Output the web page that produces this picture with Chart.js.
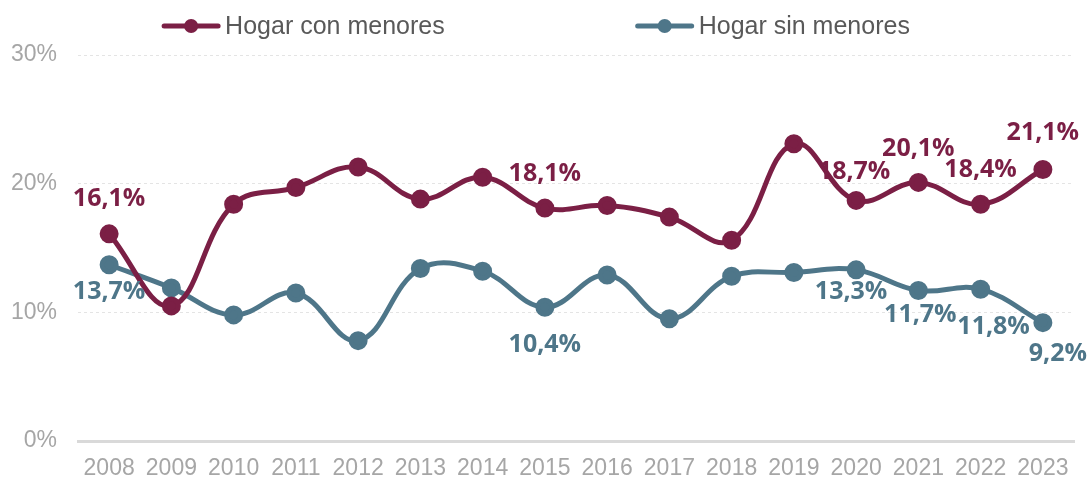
<!DOCTYPE html>
<html>
<head>
<meta charset="utf-8">
<script src="https://cdn.jsdelivr.net/npm/chart.js@4/dist/chart.umd.min.js"></script>
<style>
  html, body { margin: 0; padding: 0; background: #fff; }
  #wrap { width: 1091px; height: 481px; }
</style>
</head>
<body>
<div id="wrap"><canvas id="hogarChart"></canvas></div>
<script>
  // Hogares: con y sin menores, 2008-2023 (%)
  var years = ['2008', '2009', '2010', '2011', '2012', '2013', '2014', '2015',
    '2016', '2017', '2018', '2019', '2020', '2021', '2022', '2023'];
  var conMenores = [16.1, 10.5, 18.4, 19.7, 21.3, 18.8, 20.5, 18.1,
    18.3, 17.4, 15.6, 23.1, 18.7, 20.1, 18.4, 21.1];
  var sinMenores = [13.7, 11.9, 9.8, 11.5, 7.8, 13.4, 13.2, 10.4,
    12.9, 9.5, 12.8, 13.1, 13.3, 11.7, 11.8, 9.2];
  // years that carry a value label
  var conLabelYears = ['2008', '2015', '2020', '2021', '2022', '2023'];
  var sinLabelYears = ['2008', '2015', '2020', '2021', '2022', '2023'];
  var yTicks = [0, 10, 20, 30];

  var colCon = '#7b1f45';
  var colSin = '#4e7689';
  var narrow = '"Liberation Sans Narrow", "Liberation Sans", sans-serif';

  function fmt(v) {
    return v.toFixed(1).replace('.', ',') + '%';
  }

  // legend: line + dot icon, wide gap between the two entries
  var lineLegend = {
    id: 'lineLegend',
    afterDraw: function (chart, args, opts) {
      var ctx = chart.ctx;
      ctx.save();
      ctx.font = opts.size + 'px ' + narrow;
      ctx.textBaseline = 'middle';
      var items = chart.data.datasets.map(function (ds) {
        return { ds: ds, w: opts.icon + 4 + ctx.measureText(ds.label).width };
      });
      var total = items.reduce(function (s, it) { return s + it.w; }, 0) + opts.gap * (items.length - 1);
      var x = chart.width / 2 + opts.dx - total / 2;
      var y = opts.y;
      items.forEach(function (it) {
        var c = it.ds.borderColor;
        ctx.strokeStyle = c;
        ctx.lineWidth = 5;
        ctx.lineCap = 'round';
        ctx.beginPath(); ctx.moveTo(x + 3, y); ctx.lineTo(x + opts.icon - 3, y); ctx.stroke();
        ctx.fillStyle = c;
        ctx.beginPath(); ctx.arc(x + opts.icon / 2, y, 7, 0, Math.PI * 2); ctx.fill();
        ctx.fillStyle = '#595959';
        ctx.fillText(it.ds.label, x + opts.icon + 4, y + 1);
        x += it.w + opts.gap;
      });
      ctx.restore();
    }
  };

  var valueLabels = {
    id: 'valueLabels',
    afterDatasetsDraw: function (chart, args, opts) {
      var ctx = chart.ctx;
      ctx.save();
      ctx.font = 'bold 25px "Open Sans", sans-serif';
      ctx.textAlign = 'center';
      ctx.textBaseline = 'middle';
      chart.data.datasets.forEach(function (ds, i) {
        var meta = chart.getDatasetMeta(i);
        var conf = opts.sets[i];
        ctx.fillStyle = ds.borderColor;
        conf.years.forEach(function (yr) {
          var idx = years.indexOf(yr);
          var pt = meta.data[idx];
          var shift = conf.shift[yr] || [0, 0];
          ctx.fillText(fmt(ds.data[idx]), pt.x + shift[0], pt.y + conf.dy + shift[1]);
        });
      });
      ctx.restore();
    }
  };

  new Chart(document.getElementById('hogarChart'), {
    type: 'line',
    data: {
      labels: years,
      datasets: [
        {
          label: 'Hogar con menores',
          data: conMenores,
          borderColor: colCon,
          backgroundColor: colCon,
          borderWidth: 5,
          pointRadius: 7,
          pointHoverRadius: 7,
          tension: 0.4,
          fill: false
        },
        {
          label: 'Hogar sin menores',
          data: sinMenores,
          borderColor: colSin,
          backgroundColor: colSin,
          borderWidth: 5,
          pointRadius: 7,
          pointHoverRadius: 7,
          tension: 0.4,
          fill: false
        }
      ]
    },
    plugins: [valueLabels, lineLegend],
    options: {
      responsive: true,
      maintainAspectRatio: false,
      animation: false,
      layout: { padding: { left: 4, right: 17, top: 55, bottom: 0 } },
      plugins: {
        tooltip: { enabled: false },
        legend: { display: false },
        lineLegend: { y: 26, size: 25, icon: 60, gap: 190, dx: -10 },
        valueLabels: {
          sets: [
            { years: conLabelYears, dy: -34, shift: { '2020': [-2, 5], '2023': [0, -3], '2008': [0, -1] } },
            { years: sinLabelYears, dy: 27, shift: { '2015': [0, 11], '2020': [-5, -5], '2022': [13, 11], '2023': [15, 4], '2021': [2, -3] } }
          ]
        }
      },
      scales: {
        x: {
          offset: true,
          afterFit: function (axis) { axis.height = 40; },
          grid: { display: false },
          border: { display: true, color: '#d9d9d9', width: 3 },
          ticks: {
            color: '#a6a6a6',
            font: { family: narrow, size: 23 },
            maxRotation: 0,
            autoSkip: false,
            padding: 6
          }
        },
        y: {
          min: 0,
          max: 30,
          afterBuildTicks: function (axis) {
            axis.ticks = yTicks.map(function (v) { return { value: v }; });
          },
          afterFit: function (axis) { axis.width = 74; },
          border: { display: false, dash: [3, 3] },
          grid: {
            color: function (c) { return c.tick && c.tick.value === 0 ? 'rgba(0,0,0,0)' : '#e4e4e4'; },
            lineWidth: 1,
            drawTicks: false
          },
          ticks: {
            color: '#a6a6a6',
            font: { family: narrow, size: 23 },
            padding: 21,
            callback: function (v) { return v + '%'; }
          }
        }
      }
    }
  });
</script>
</body>
</html>
